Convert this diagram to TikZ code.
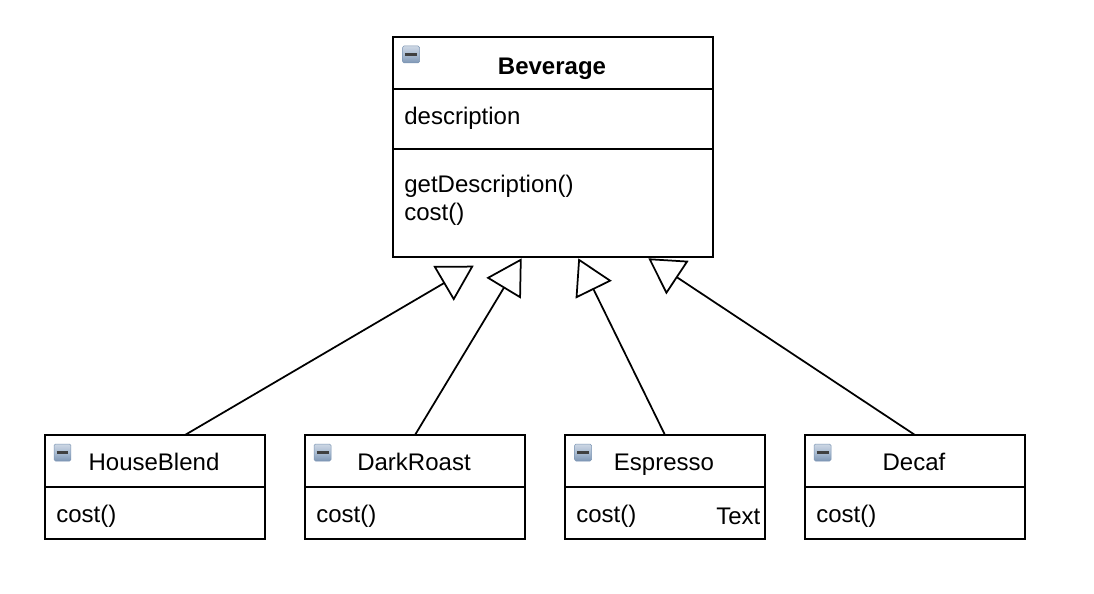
\documentclass[tikz,border=0pt]{standalone}
\usepackage{fontspec}
\setmainfont{Liberation Sans}
\usetikzlibrary{arrows.meta}
\definecolor{icontop}{RGB}{205,215,228}
\definecolor{iconmid}{RGB}{170,188,210}
\definecolor{iconbottom}{RGB}{125,150,180}
\tikzset{
	classbox/.style={draw, line width=0.04cm, outer sep=0pt, inner sep=0pt},
	classtext/.style={anchor=base west, inner sep=0pt, font=\fontsize{13.66}{16}\selectfont},
	classname/.style={anchor=base, inner sep=0pt, font=\fontsize{13.66}{16}\selectfont},
	minusicon/.style={draw=iconbottom, line width=0.01cm, rounded corners=0.03cm, minimum size=0.34cm, inner sep=0pt,
		top color=icontop, bottom color=iconbottom, middle color=iconmid,
		path picture={\draw[line width=0.05cm, black!75] ([xshift=-0.12cm]path picture bounding box.center) -- ([xshift=0.12cm]path picture bounding box.center);}},
	inherit/.style={line width=0.035cm, -{Triangle[open, length=0.7cm, width=0.8cm, line width=0.035cm]}}
}
\begin{document}
\begin{tikzpicture}[x=0.02cm, y=-0.02cm]
	\useasboundingbox[fill=white] (0,0) rectangle (1094,594);

	% classe base
	\node[classbox, minimum width=6.4cm, minimum height=4.4cm] (beverage) at (553,147) {};
	\draw[line width=0.04cm] (beverage.west |- 0,89) -- (beverage.east |- 0,89);
	\draw[line width=0.04cm] (beverage.west |- 0,149) -- (beverage.east |- 0,149);
	\node[classname, font=\fontsize{13.66}{16}\selectfont\bfseries] (beveragename) at (552,75) {Beverage};
	\node[classtext] (description) at (404,125) {description};
	\node[classtext] (getdescription) at (404,193) {getDescription()};
	\node[classtext] (beveragecost) at (404,221) {cost()};

	% sottoclassi
	\foreach \name/\cx/\w/\label in {houseblend/155/4.4/HouseBlend, darkroast/415/4.4/DarkRoast, espresso/665/4/Espresso, decaf/915/4.4/Decaf}{
		\node[classbox, minimum width=\w cm, minimum height=2.08cm] (\name) at (\cx,487) {};
		\draw[line width=0.04cm] (\name.west |- 0,487) -- (\name.east |- 0,487);
		\node[classname] (\name label) at (\cx-1,470) {\label};
		\node[classtext] (\name cost) at ([xshift=0.22cm]\name.west |- 0,522) {cost()};
	}
	\node[classtext] (extratext) at (716,524) {Text};

	% icone
	\foreach \name/\ix/\iy in {beverageicon/411/54.5, houseblendicon/62.5/452.5, darkroasticon/322.5/452.5, espressoicon/583/452.5, decaficon/822.5/452.5}
		\node[minusicon] (\name) at (\ix,\iy) {};

	% frecce
	\coordinate (houseblendtop) at (185,435);
	\coordinate (darkroasttop) at (415,435);
	\coordinate (espressotop) at (665,435);
	\coordinate (decaftop) at (915,435);
	\coordinate (tiphouseblend) at (473.7,265.7);
	\coordinate (tipdarkroast) at (521.7,258.3);
	\coordinate (tipespresso) at (578.3,258.3);
	\coordinate (tipdecaf) at (648.3,258.3);
	\draw[inherit] (houseblendtop) -- (tiphouseblend);
	\draw[inherit] (darkroasttop) -- (tipdarkroast);
	\draw[inherit] (espressotop) -- (tipespresso);
	\draw[inherit] (decaftop) -- (tipdecaf);
\end{tikzpicture}
\end{document}
